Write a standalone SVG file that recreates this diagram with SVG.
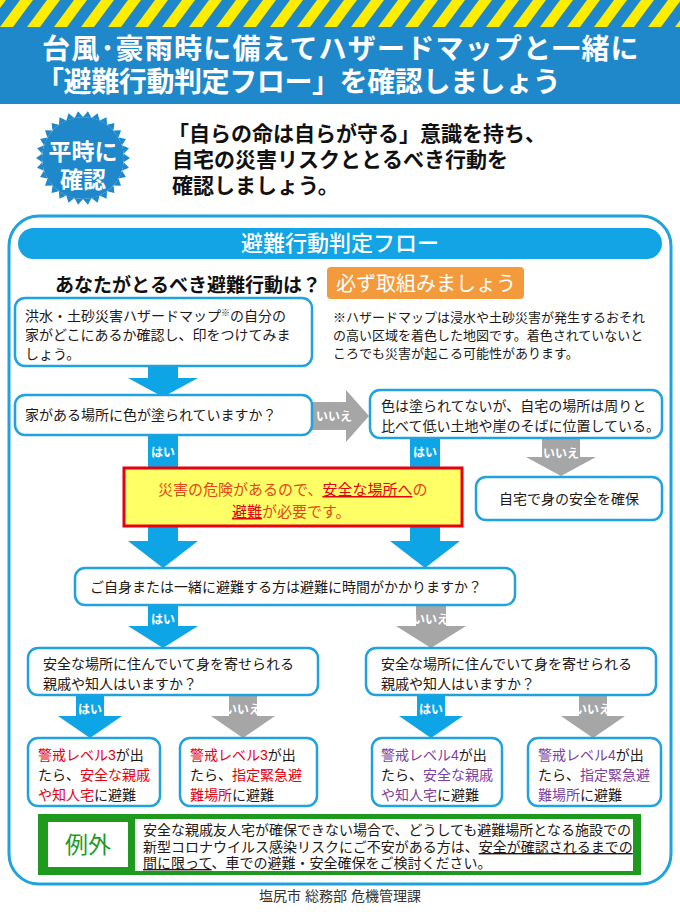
<svg xmlns="http://www.w3.org/2000/svg" xmlns:xlink="http://www.w3.org/1999/xlink" width="680" height="912" viewBox="0 0 680 912">
<defs>
<style>
text{font-family:"Liberation Sans","Noto Sans CJK JP",sans-serif}
.box{fill:#fff;stroke:#1fa2dd;stroke-width:2.5}
.blue{fill:#0ea5e6}
.gray{fill:#a6a6a6}
.lbl{fill:#fff;font-weight:700;font-size:12px}
.body{font-size:14px;fill:#231815}
.red{fill:#e60012}
.pur{fill:#7e3f9d}
.ul{text-decoration:underline}
</style>
<pattern id="stripes" patternUnits="userSpaceOnUse" width="27" height="27">
<rect width="27" height="27" fill="#1f88cb"/>
<polygon points="0,27 13,27 33,0 20,0" fill="#ffed00"/>
<polygon points="-27,27 -14,27 6,0 -7,0" fill="#ffed00"/>
</pattern>
<polygon id="spike" points="130,158 123.78,153.71 123.78,162.29"/>
</defs>
<rect width="680" height="912" fill="#fff"/>

<g id="banner">
<rect x="0" y="0" width="680" height="104" fill="#1f88cb"/>
<rect x="0" y="0" width="680" height="27" fill="url(#stripes)"/>
<text font-size="28" font-weight="700" fill="#fff"><tspan x="42" y="59" letter-spacing="1.2">台風･豪雨時に備えてハザードマップと一緒に</tspan><tspan x="36" y="92" letter-spacing="-0.4">「避難行動判定フロー」を確認しましょう</tspan></text>
</g>

<g id="burst" fill="#1f88cb">
<circle cx="83" cy="158" r="41"/>
<use href="#spike"/>
<use href="#spike" transform="rotate(12 83 158)"/>
<use href="#spike" transform="rotate(24 83 158)"/>
<use href="#spike" transform="rotate(36 83 158)"/>
<use href="#spike" transform="rotate(48 83 158)"/>
<use href="#spike" transform="rotate(60 83 158)"/>
<use href="#spike" transform="rotate(72 83 158)"/>
<use href="#spike" transform="rotate(84 83 158)"/>
<use href="#spike" transform="rotate(96 83 158)"/>
<use href="#spike" transform="rotate(108 83 158)"/>
<use href="#spike" transform="rotate(120 83 158)"/>
<use href="#spike" transform="rotate(132 83 158)"/>
<use href="#spike" transform="rotate(144 83 158)"/>
<use href="#spike" transform="rotate(156 83 158)"/>
<use href="#spike" transform="rotate(168 83 158)"/>
<use href="#spike" transform="rotate(180 83 158)"/>
<use href="#spike" transform="rotate(192 83 158)"/>
<use href="#spike" transform="rotate(204 83 158)"/>
<use href="#spike" transform="rotate(216 83 158)"/>
<use href="#spike" transform="rotate(228 83 158)"/>
<use href="#spike" transform="rotate(240 83 158)"/>
<use href="#spike" transform="rotate(252 83 158)"/>
<use href="#spike" transform="rotate(264 83 158)"/>
<use href="#spike" transform="rotate(276 83 158)"/>
<use href="#spike" transform="rotate(288 83 158)"/>
<use href="#spike" transform="rotate(300 83 158)"/>
<use href="#spike" transform="rotate(312 83 158)"/>
<use href="#spike" transform="rotate(324 83 158)"/>
<use href="#spike" transform="rotate(336 83 158)"/>
<use href="#spike" transform="rotate(348 83 158)"/>
<text font-size="23" font-weight="700" fill="#fff" text-anchor="middle"><tspan x="83" y="160">平時に</tspan><tspan x="83" y="188">確認</tspan></text>
</g>

<g id="intro">
<text font-size="21" font-weight="700" fill="#111"><tspan x="168" y="141">「自らの命は自らが守る」意識を持ち、</tspan><tspan x="172" y="167">自宅の災害リスクととるべき行動を</tspan><tspan x="172" y="193">確認しましょう。</tspan></text>
</g>

<g id="container">
<rect x="9" y="216" width="662" height="668" rx="30" fill="none" stroke="#1fa2dd" stroke-width="3"/>
<rect x="18" y="228" width="644" height="31" rx="15.5" fill="#12a4e5"/>
<text x="340" y="251" font-size="22" font-weight="500" fill="#fff" text-anchor="middle">避難行動判定フロー</text>
</g>

<g id="question-head">
<text x="55" y="292" font-size="19" font-weight="700" fill="#111">あなたがとるべき避難行動は？</text>
</g>
<g id="must">
<rect x="327" y="267" width="197" height="32" rx="4" fill="#f39a3c"/>
<text x="336" y="291" font-size="20" fill="#fff">必ず取組みましょう</text>
</g>
<g id="note">
<text font-size="13" fill="#231815"><tspan x="333" y="322">※ハザードマップは浸水や土砂災害が発生するおそれ</tspan><tspan x="333" y="340">の高い区域を着色した地図です。着色されていないと</tspan><tspan x="333" y="358">ころでも災害が起こる可能性があります。</tspan></text>
</g>

<g id="connectors">
<path class="blue" d="M148,365 L178,365 L178,378 L198,378 L163,397 L128,378 L148,378 Z"/>
<path class="gray" d="M312,402 L346,402 L346,390 L369,416 L346,442 L346,430 L312,430 Z"/>
<text class="lbl" x="316" y="421" font-size="11">いいえ</text>
<path class="blue" d="M148,434 L178,434 L178,541 L198,541 L163,568 L128,541 L148,541 Z"/>
<text class="lbl" x="163" y="457" text-anchor="middle">はい</text>
<path class="blue" d="M410,437 L440,437 L440,541 L460,541 L425,568 L390,541 L410,541 Z"/>
<text class="lbl" x="425" y="457" text-anchor="middle">はい</text>
<path class="gray" d="M542,438 L580,438 L580,457 L596,457 L561,476 L526,457 L542,457 Z"/>
<text class="lbl" x="561" y="458" text-anchor="middle" font-size="11">いいえ</text>
<path class="blue" d="M148,604 L178,604 L178,626 L198,626 L163,648 L128,626 L148,626 Z"/>
<text class="lbl" x="163" y="624" text-anchor="middle">はい</text>
<path class="gray" d="M416,604 L446,604 L446,626 L466,626 L431,648 L396,626 L416,626 Z"/>
<text class="lbl" x="431" y="624" text-anchor="middle">いいえ</text>
<path class="blue" d="M76,695 L104,695 L104,716 L122,716 L90,738 L58,716 L76,716 Z"/>
<text class="lbl" x="90" y="714" text-anchor="middle">はい</text>
<path class="gray" d="M229,695 L257,695 L257,716 L275,716 L243,738 L211,716 L229,716 Z"/>
<text class="lbl" x="243" y="714" text-anchor="middle">いいえ</text>
<path class="blue" d="M417,695 L445,695 L445,716 L463,716 L431,738 L399,716 L417,716 Z"/>
<text class="lbl" x="431" y="714" text-anchor="middle">はい</text>
<path class="gray" d="M579,695 L607,695 L607,716 L625,716 L593,738 L561,716 L579,716 Z"/>
<text class="lbl" x="593" y="714" text-anchor="middle">いいえ</text>
</g>

<g id="n-map">
<rect class="box" x="15" y="298" width="297" height="68" rx="10"/>
<text class="body"><tspan x="25" y="321">洪水・土砂災害ハザードマップ</tspan><tspan font-size="9" dy="-5">※</tspan><tspan dy="5">の自分の</tspan><tspan x="25" y="340">家がどこにあるか確認し、印をつけてみま</tspan><tspan x="25" y="359">しょう。</tspan></text>
</g>

<g id="n-colored">
<rect class="box" x="15" y="395" width="297" height="40" rx="10"/>
<text class="body" x="25" y="420">家がある場所に色が塗られていますか？</text>
</g>

<g id="n-low">
<rect class="box" x="370" y="390" width="292" height="48" rx="10"/>
<text class="body" font-size="13.6"><tspan x="381" y="411">色は塗られてないが、自宅の場所は周りと</tspan><tspan x="381" y="431">比べて低い土地や崖のそばに位置している。</tspan></text>
</g>

<g id="n-danger">
<rect x="124" y="468" width="338" height="58" fill="#ffff66" stroke="#e60012" stroke-width="3"/>
<text font-size="15" fill="#e4481b"><tspan x="158" y="495">災害の危険があるので、</tspan><tspan class="red ul">安全な場所へ</tspan><tspan>の</tspan><tspan x="232" y="517" class="red ul">避難</tspan><tspan>が必要です。</tspan></text>
</g>

<g id="n-home">
<rect class="box" x="476" y="477" width="186" height="43" rx="10"/>
<text class="body" x="569" y="504" text-anchor="middle">自宅で身の安全を確保</text>
</g>

<g id="n-time">
<rect class="box" x="75" y="568" width="440" height="37" rx="10"/>
<text class="body" x="90" y="592">ご自身または一緒に避難する方は避難に時間がかかりますか？</text>
</g>

<g id="n-rel-left">
<rect class="box" x="28" y="648" width="290" height="47" rx="10"/>
<text class="body"><tspan x="43" y="669">安全な場所に住んでいて身を寄せられる</tspan><tspan x="43" y="689">親戚や知人はいますか？</tspan></text>
</g>

<g id="n-rel-right">
<rect class="box" x="366" y="648" width="290" height="47" rx="10"/>
<text class="body"><tspan x="381" y="669">安全な場所に住んでいて身を寄せられる</tspan><tspan x="381" y="689">親戚や知人はいますか？</tspan></text>
</g>

<g id="n-l3-rel">
<rect class="box" x="28" y="738" width="132" height="68" rx="10"/>
<text class="body" font-size="14.5"><tspan x="38" y="760" class="red">警戒レベル3</tspan><tspan>が出</tspan><tspan x="38" y="780">たら、</tspan><tspan class="red">安全な親戚</tspan><tspan x="38" y="800" class="red">や知人宅</tspan><tspan>に避難</tspan></text>
</g>

<g id="n-l3-shelter">
<rect class="box" x="180" y="738" width="137" height="68" rx="10"/>
<text class="body" font-size="14.5"><tspan x="190" y="760" class="red">警戒レベル3</tspan><tspan>が出</tspan><tspan x="190" y="780">たら、</tspan><tspan class="red">指定緊急避</tspan><tspan x="190" y="800" class="red">難場所</tspan><tspan>に避難</tspan></text>
</g>

<g id="n-l4-rel">
<rect class="box" x="372" y="738" width="130" height="68" rx="10"/>
<text class="body" font-size="14.5"><tspan x="381" y="760" class="pur">警戒レベル4</tspan><tspan>が出</tspan><tspan x="381" y="780">たら、</tspan><tspan class="pur">安全な親戚</tspan><tspan x="381" y="800" class="pur">や知人宅</tspan><tspan>に避難</tspan></text>
</g>

<g id="n-l4-shelter">
<rect class="box" x="528" y="738" width="133" height="68" rx="10"/>
<text class="body" font-size="14.5"><tspan x="538" y="760" class="pur">警戒レベル4</tspan><tspan>が出</tspan><tspan x="538" y="780">たら、</tspan><tspan class="pur">指定緊急避</tspan><tspan x="538" y="800" class="pur">難場所</tspan><tspan>に避難</tspan></text>
</g>

<g id="n-exception">
<rect x="38" y="814" width="603" height="61" fill="#1e9a1e"/>
<rect x="48" y="822" width="80" height="45" fill="#fff"/>
<text x="88" y="853" font-size="23" fill="#1e9a1e" text-anchor="middle">例外</text>
<rect x="135" y="819" width="498" height="52" fill="#fff"/>
<text class="body" font-size="13.8"><tspan x="143" y="835">安全な親戚友人宅が確保できない場合で、どうしても避難場所となる施設での</tspan><tspan x="143" y="852">新型コロナウイルス感染リスクにご不安がある方は、</tspan><tspan class="ul">安全が確認されるまでの</tspan><tspan x="143" y="868" class="ul">間に限って</tspan><tspan>、車での避難・安全確保をご検討ください。</tspan></text>
</g>

<g id="footer">
<text x="340" y="901" font-size="14" fill="#333" text-anchor="middle">塩尻市 総務部 危機管理課</text>
</g>
</svg>
